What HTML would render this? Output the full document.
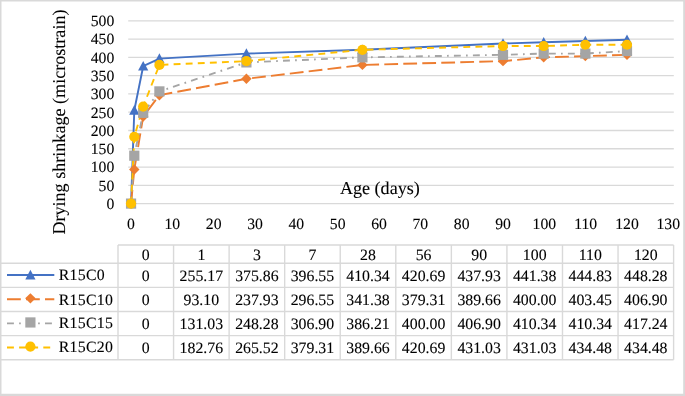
<!DOCTYPE html>
<html><head><meta charset="utf-8"><style>
html,body{margin:0;padding:0;background:#fff;width:685px;height:396px;overflow:hidden;}
svg{display:block;will-change:transform;} text{font-family:"Liberation Serif",serif;text-rendering:geometricPrecision;stroke:#000;stroke-width:0.1px;}
</style></head><body>
<svg width="685" height="396" viewBox="0 0 685 396">
<rect width="685" height="396" fill="#fff"/>
<line x1="128.2" y1="203.60" x2="673.8" y2="203.60" stroke="#D9D9D9" stroke-width="1.3"/>
<line x1="128.2" y1="185.32" x2="673.8" y2="185.32" stroke="#D9D9D9" stroke-width="1.3"/>
<line x1="128.2" y1="167.04" x2="673.8" y2="167.04" stroke="#D9D9D9" stroke-width="1.3"/>
<line x1="128.2" y1="148.76" x2="673.8" y2="148.76" stroke="#D9D9D9" stroke-width="1.3"/>
<line x1="128.2" y1="130.48" x2="673.8" y2="130.48" stroke="#D9D9D9" stroke-width="1.3"/>
<line x1="128.2" y1="112.20" x2="673.8" y2="112.20" stroke="#D9D9D9" stroke-width="1.3"/>
<line x1="128.2" y1="93.92" x2="673.8" y2="93.92" stroke="#D9D9D9" stroke-width="1.3"/>
<line x1="128.2" y1="75.64" x2="673.8" y2="75.64" stroke="#D9D9D9" stroke-width="1.3"/>
<line x1="128.2" y1="57.36" x2="673.8" y2="57.36" stroke="#D9D9D9" stroke-width="1.3"/>
<line x1="128.2" y1="39.08" x2="673.8" y2="39.08" stroke="#D9D9D9" stroke-width="1.3"/>
<line x1="128.2" y1="20.80" x2="673.8" y2="20.80" stroke="#D9D9D9" stroke-width="1.3"/>
<text x="114.3" y="208.90" text-anchor="end" font-size="15.7"  fill="#000">0</text>
<text x="114.3" y="190.62" text-anchor="end" font-size="15.7"  fill="#000">50</text>
<text x="114.3" y="172.34" text-anchor="end" font-size="15.7"  fill="#000">100</text>
<text x="114.3" y="154.06" text-anchor="end" font-size="15.7"  fill="#000">150</text>
<text x="114.3" y="135.78" text-anchor="end" font-size="15.7"  fill="#000">200</text>
<text x="114.3" y="117.50" text-anchor="end" font-size="15.7"  fill="#000">250</text>
<text x="114.3" y="99.22" text-anchor="end" font-size="15.7"  fill="#000">300</text>
<text x="114.3" y="80.94" text-anchor="end" font-size="15.7"  fill="#000">350</text>
<text x="114.3" y="62.66" text-anchor="end" font-size="15.7"  fill="#000">400</text>
<text x="114.3" y="44.38" text-anchor="end" font-size="15.7"  fill="#000">450</text>
<text x="114.3" y="26.10" text-anchor="end" font-size="15.7"  fill="#000">500</text>
<text x="131.00" y="228.8" text-anchor="middle" font-size="15.7"  fill="#000">0</text>
<text x="172.33" y="228.8" text-anchor="middle" font-size="15.7"  fill="#000">10</text>
<text x="213.66" y="228.8" text-anchor="middle" font-size="15.7"  fill="#000">20</text>
<text x="254.99" y="228.8" text-anchor="middle" font-size="15.7"  fill="#000">30</text>
<text x="296.32" y="228.8" text-anchor="middle" font-size="15.7"  fill="#000">40</text>
<text x="337.65" y="228.8" text-anchor="middle" font-size="15.7"  fill="#000">50</text>
<text x="378.98" y="228.8" text-anchor="middle" font-size="15.7"  fill="#000">60</text>
<text x="420.31" y="228.8" text-anchor="middle" font-size="15.7"  fill="#000">70</text>
<text x="461.64" y="228.8" text-anchor="middle" font-size="15.7"  fill="#000">80</text>
<text x="502.97" y="228.8" text-anchor="middle" font-size="15.7"  fill="#000">90</text>
<text x="544.30" y="228.8" text-anchor="middle" font-size="15.7"  fill="#000">100</text>
<text x="585.63" y="228.8" text-anchor="middle" font-size="15.7"  fill="#000">110</text>
<text x="626.96" y="228.8" text-anchor="middle" font-size="15.7"  fill="#000">120</text>
<text x="668.29" y="228.8" text-anchor="middle" font-size="15.7"  fill="#000">130</text>
<text x="339.9" y="194.4" font-size="18.1"  fill="#000">Age (days)</text>
<text transform="translate(65.0,234.6) rotate(-90)" x="0" y="0" font-size="18.1"  fill="#000">Drying shrinkage (microstrain)</text>
<polyline points="131.05,203.60 134.30,110.31 143.20,66.19 159.40,58.62 246.40,53.58 362.40,49.80 503.00,43.49 543.70,42.23 585.35,40.97 627.00,39.71" fill="none" stroke="#4472C4" stroke-width="1.9" stroke-linejoin="round"/>
<polyline points="131.05,203.60 134.30,169.56 143.20,116.61 159.40,95.18 246.40,78.79 362.40,64.92 503.00,61.14 543.70,57.36 585.35,56.10 627.00,54.84" fill="none" stroke="#ED7D31" stroke-width="1.9" stroke-linejoin="round" stroke-dasharray="13.8 5.2"/>
<polyline points="131.05,203.60 134.30,155.70 143.20,112.83 159.40,91.40 246.40,62.40 362.40,57.36 503.00,54.84 543.70,53.58 585.35,53.58 627.00,51.06" fill="none" stroke="#A5A5A5" stroke-width="1.9" stroke-linejoin="round" stroke-dasharray="6.9 5.2 1.7 5.2"/>
<polyline points="131.05,203.60 134.30,136.78 143.20,106.53 159.40,64.92 246.40,61.14 362.40,49.80 503.00,46.02 543.70,46.02 585.35,44.75 627.00,44.75" fill="none" stroke="#FFC000" stroke-width="1.9" stroke-linejoin="round" stroke-dasharray="6.9 5.2"/>
<path d="M131.05,198.32 L136.15,207.92 L125.95,207.92 Z" fill="#4472C4"/>
<path d="M134.30,105.03 L139.40,114.63 L129.20,114.63 Z" fill="#4472C4"/>
<path d="M143.20,60.91 L148.30,70.51 L138.10,70.51 Z" fill="#4472C4"/>
<path d="M159.40,53.34 L164.50,62.94 L154.30,62.94 Z" fill="#4472C4"/>
<path d="M246.40,48.30 L251.50,57.90 L241.30,57.90 Z" fill="#4472C4"/>
<path d="M362.40,44.52 L367.50,54.12 L357.30,54.12 Z" fill="#4472C4"/>
<path d="M503.00,38.21 L508.10,47.81 L497.90,47.81 Z" fill="#4472C4"/>
<path d="M543.70,36.95 L548.80,46.55 L538.60,46.55 Z" fill="#4472C4"/>
<path d="M585.35,35.69 L590.45,45.29 L580.25,45.29 Z" fill="#4472C4"/>
<path d="M627.00,34.43 L632.10,44.03 L621.90,44.03 Z" fill="#4472C4"/>
<path d="M131.05,198.40 L136.25,203.60 L131.05,208.80 L125.85,203.60 Z" fill="#ED7D31"/>
<path d="M134.30,164.36 L139.50,169.56 L134.30,174.76 L129.10,169.56 Z" fill="#ED7D31"/>
<path d="M143.20,111.41 L148.40,116.61 L143.20,121.81 L138.00,116.61 Z" fill="#ED7D31"/>
<path d="M159.40,89.98 L164.60,95.18 L159.40,100.38 L154.20,95.18 Z" fill="#ED7D31"/>
<path d="M246.40,73.59 L251.60,78.79 L246.40,83.99 L241.20,78.79 Z" fill="#ED7D31"/>
<path d="M362.40,59.72 L367.60,64.92 L362.40,70.12 L357.20,64.92 Z" fill="#ED7D31"/>
<path d="M503.00,55.94 L508.20,61.14 L503.00,66.34 L497.80,61.14 Z" fill="#ED7D31"/>
<path d="M543.70,52.16 L548.90,57.36 L543.70,62.56 L538.50,57.36 Z" fill="#ED7D31"/>
<path d="M585.35,50.90 L590.55,56.10 L585.35,61.30 L580.15,56.10 Z" fill="#ED7D31"/>
<path d="M627.00,49.64 L632.20,54.84 L627.00,60.04 L621.80,54.84 Z" fill="#ED7D31"/>
<rect x="125.95" y="198.50" width="10.20" height="10.20" fill="#A5A5A5"/>
<rect x="129.20" y="150.60" width="10.20" height="10.20" fill="#A5A5A5"/>
<rect x="138.10" y="107.73" width="10.20" height="10.20" fill="#A5A5A5"/>
<rect x="154.30" y="86.30" width="10.20" height="10.20" fill="#A5A5A5"/>
<rect x="241.30" y="57.30" width="10.20" height="10.20" fill="#A5A5A5"/>
<rect x="357.30" y="52.26" width="10.20" height="10.20" fill="#A5A5A5"/>
<rect x="497.90" y="49.74" width="10.20" height="10.20" fill="#A5A5A5"/>
<rect x="538.60" y="48.48" width="10.20" height="10.20" fill="#A5A5A5"/>
<rect x="580.25" y="48.48" width="10.20" height="10.20" fill="#A5A5A5"/>
<rect x="621.90" y="45.96" width="10.20" height="10.20" fill="#A5A5A5"/>
<circle cx="131.05" cy="203.60" r="5.1" fill="#FFC000"/>
<circle cx="134.30" cy="136.78" r="5.1" fill="#FFC000"/>
<circle cx="143.20" cy="106.53" r="5.1" fill="#FFC000"/>
<circle cx="159.40" cy="64.92" r="5.1" fill="#FFC000"/>
<circle cx="246.40" cy="61.14" r="5.1" fill="#FFC000"/>
<circle cx="362.40" cy="49.80" r="5.1" fill="#FFC000"/>
<circle cx="503.00" cy="46.02" r="5.1" fill="#FFC000"/>
<circle cx="543.70" cy="46.02" r="5.1" fill="#FFC000"/>
<circle cx="585.35" cy="44.75" r="5.1" fill="#FFC000"/>
<circle cx="627.00" cy="44.75" r="5.1" fill="#FFC000"/>
<line x1="118.00" y1="245.0" x2="673.60" y2="245.0" stroke="#D9D9D9" stroke-width="1.4"/>
<line x1="0" y1="263.2" x2="673.60" y2="263.2" stroke="#D9D9D9" stroke-width="1.4"/>
<line x1="0" y1="287.35" x2="673.60" y2="287.35" stroke="#D9D9D9" stroke-width="1.4"/>
<line x1="0" y1="311.5" x2="673.60" y2="311.5" stroke="#D9D9D9" stroke-width="1.4"/>
<line x1="0" y1="335.6" x2="673.60" y2="335.6" stroke="#D9D9D9" stroke-width="1.4"/>
<line x1="0" y1="359.7" x2="673.60" y2="359.7" stroke="#D9D9D9" stroke-width="1.4"/>
<line x1="118.00" y1="245.0" x2="118.00" y2="359.7" stroke="#D9D9D9" stroke-width="1.4"/>
<line x1="173.56" y1="245.0" x2="173.56" y2="359.7" stroke="#D9D9D9" stroke-width="1.4"/>
<line x1="229.12" y1="245.0" x2="229.12" y2="359.7" stroke="#D9D9D9" stroke-width="1.4"/>
<line x1="284.68" y1="245.0" x2="284.68" y2="359.7" stroke="#D9D9D9" stroke-width="1.4"/>
<line x1="340.24" y1="245.0" x2="340.24" y2="359.7" stroke="#D9D9D9" stroke-width="1.4"/>
<line x1="395.80" y1="245.0" x2="395.80" y2="359.7" stroke="#D9D9D9" stroke-width="1.4"/>
<line x1="451.36" y1="245.0" x2="451.36" y2="359.7" stroke="#D9D9D9" stroke-width="1.4"/>
<line x1="506.92" y1="245.0" x2="506.92" y2="359.7" stroke="#D9D9D9" stroke-width="1.4"/>
<line x1="562.48" y1="245.0" x2="562.48" y2="359.7" stroke="#D9D9D9" stroke-width="1.4"/>
<line x1="618.04" y1="245.0" x2="618.04" y2="359.7" stroke="#D9D9D9" stroke-width="1.4"/>
<line x1="673.60" y1="245.0" x2="673.60" y2="359.7" stroke="#D9D9D9" stroke-width="1.4"/>
<text x="145.78" y="259.9" text-anchor="middle" font-size="15.8"  fill="#000">0</text>
<text x="201.34" y="259.9" text-anchor="middle" font-size="15.8"  fill="#000">1</text>
<text x="256.90" y="259.9" text-anchor="middle" font-size="15.8"  fill="#000">3</text>
<text x="312.46" y="259.9" text-anchor="middle" font-size="15.8"  fill="#000">7</text>
<text x="368.02" y="259.9" text-anchor="middle" font-size="15.8"  fill="#000">28</text>
<text x="423.58" y="259.9" text-anchor="middle" font-size="15.8"  fill="#000">56</text>
<text x="479.14" y="259.9" text-anchor="middle" font-size="15.8"  fill="#000">90</text>
<text x="534.70" y="259.9" text-anchor="middle" font-size="15.8"  fill="#000">100</text>
<text x="590.26" y="259.9" text-anchor="middle" font-size="15.8"  fill="#000">110</text>
<text x="645.82" y="259.9" text-anchor="middle" font-size="15.8"  fill="#000">120</text>
<line x1="7" y1="275.07" x2="54.3" y2="275.07" stroke="#4472C4" stroke-width="1.9"/>
<path d="M30.40,269.80 L35.50,279.39 L25.30,279.39 Z" fill="#4472C4"/>
<text x="58.7" y="279.90" font-size="15.8" letter-spacing="0.3" fill="#000">R15C0</text>
<text x="145.78" y="280.90" text-anchor="middle" font-size="15.8"  fill="#000">0</text>
<text x="201.34" y="280.90" text-anchor="middle" font-size="15.8"  fill="#000">255.17</text>
<text x="256.90" y="280.90" text-anchor="middle" font-size="15.8"  fill="#000">375.86</text>
<text x="312.46" y="280.90" text-anchor="middle" font-size="15.8"  fill="#000">396.55</text>
<text x="368.02" y="280.90" text-anchor="middle" font-size="15.8"  fill="#000">410.34</text>
<text x="423.58" y="280.90" text-anchor="middle" font-size="15.8"  fill="#000">420.69</text>
<text x="479.14" y="280.90" text-anchor="middle" font-size="15.8"  fill="#000">437.93</text>
<text x="534.70" y="280.90" text-anchor="middle" font-size="15.8"  fill="#000">441.38</text>
<text x="590.26" y="280.90" text-anchor="middle" font-size="15.8"  fill="#000">444.83</text>
<text x="645.82" y="280.90" text-anchor="middle" font-size="15.8"  fill="#000">448.28</text>
<line x1="7" y1="299.23" x2="54.3" y2="299.23" stroke="#ED7D31" stroke-width="1.9" stroke-dasharray="13.8 5.2"/>
<path d="M30.40,293.13 L35.60,298.33 L30.40,303.53 L25.20,298.33 Z" fill="#ED7D31"/>
<text x="58.7" y="304.70" font-size="15.8" letter-spacing="0.3" fill="#000">R15C10</text>
<text x="145.78" y="305.30" text-anchor="middle" font-size="15.8"  fill="#000">0</text>
<text x="201.34" y="305.30" text-anchor="middle" font-size="15.8"  fill="#000">93.10</text>
<text x="256.90" y="305.30" text-anchor="middle" font-size="15.8"  fill="#000">237.93</text>
<text x="312.46" y="305.30" text-anchor="middle" font-size="15.8"  fill="#000">296.55</text>
<text x="368.02" y="305.30" text-anchor="middle" font-size="15.8"  fill="#000">341.38</text>
<text x="423.58" y="305.30" text-anchor="middle" font-size="15.8"  fill="#000">379.31</text>
<text x="479.14" y="305.30" text-anchor="middle" font-size="15.8"  fill="#000">389.66</text>
<text x="534.70" y="305.30" text-anchor="middle" font-size="15.8"  fill="#000">400.00</text>
<text x="590.26" y="305.30" text-anchor="middle" font-size="15.8"  fill="#000">403.45</text>
<text x="645.82" y="305.30" text-anchor="middle" font-size="15.8"  fill="#000">406.90</text>
<line x1="7" y1="323.35" x2="54.3" y2="323.35" stroke="#A5A5A5" stroke-width="1.9" stroke-dasharray="6.9 5.2 1.7 5.2"/>
<rect x="25.30" y="317.35" width="10.20" height="10.20" fill="#A5A5A5"/>
<text x="58.7" y="327.90" font-size="15.8" letter-spacing="0.3" fill="#000">R15C15</text>
<text x="145.78" y="328.50" text-anchor="middle" font-size="15.8"  fill="#000">0</text>
<text x="201.34" y="328.50" text-anchor="middle" font-size="15.8"  fill="#000">131.03</text>
<text x="256.90" y="328.50" text-anchor="middle" font-size="15.8"  fill="#000">248.28</text>
<text x="312.46" y="328.50" text-anchor="middle" font-size="15.8"  fill="#000">306.90</text>
<text x="368.02" y="328.50" text-anchor="middle" font-size="15.8"  fill="#000">386.21</text>
<text x="423.58" y="328.50" text-anchor="middle" font-size="15.8"  fill="#000">400.00</text>
<text x="479.14" y="328.50" text-anchor="middle" font-size="15.8"  fill="#000">406.90</text>
<text x="534.70" y="328.50" text-anchor="middle" font-size="15.8"  fill="#000">410.34</text>
<text x="590.26" y="328.50" text-anchor="middle" font-size="15.8"  fill="#000">410.34</text>
<text x="645.82" y="328.50" text-anchor="middle" font-size="15.8"  fill="#000">417.24</text>
<line x1="7" y1="347.45" x2="54.3" y2="347.45" stroke="#FFC000" stroke-width="1.9" stroke-dasharray="6.9 5.2"/>
<circle cx="30.40" cy="346.55" r="5.1" fill="#FFC000"/>
<text x="58.7" y="352.00" font-size="15.8" letter-spacing="0.3" fill="#000">R15C20</text>
<text x="145.78" y="352.60" text-anchor="middle" font-size="15.8"  fill="#000">0</text>
<text x="201.34" y="352.60" text-anchor="middle" font-size="15.8"  fill="#000">182.76</text>
<text x="256.90" y="352.60" text-anchor="middle" font-size="15.8"  fill="#000">265.52</text>
<text x="312.46" y="352.60" text-anchor="middle" font-size="15.8"  fill="#000">379.31</text>
<text x="368.02" y="352.60" text-anchor="middle" font-size="15.8"  fill="#000">389.66</text>
<text x="423.58" y="352.60" text-anchor="middle" font-size="15.8"  fill="#000">420.69</text>
<text x="479.14" y="352.60" text-anchor="middle" font-size="15.8"  fill="#000">431.03</text>
<text x="534.70" y="352.60" text-anchor="middle" font-size="15.8"  fill="#000">431.03</text>
<text x="590.26" y="352.60" text-anchor="middle" font-size="15.8"  fill="#000">434.48</text>
<text x="645.82" y="352.60" text-anchor="middle" font-size="15.8"  fill="#000">434.48</text>
<line x1="0.75" y1="0" x2="0.75" y2="396" stroke="#D9D9D9" stroke-width="1.5"/>
<line x1="0" y1="0.75" x2="685" y2="0.75" stroke="#D9D9D9" stroke-width="1.5"/>
<line x1="684.1" y1="0" x2="684.1" y2="396" stroke="#D9D9D9" stroke-width="1.8"/>
<line x1="0" y1="394.85" x2="685" y2="394.85" stroke="#D9D9D9" stroke-width="2.2"/>
</svg>
</body></html>
